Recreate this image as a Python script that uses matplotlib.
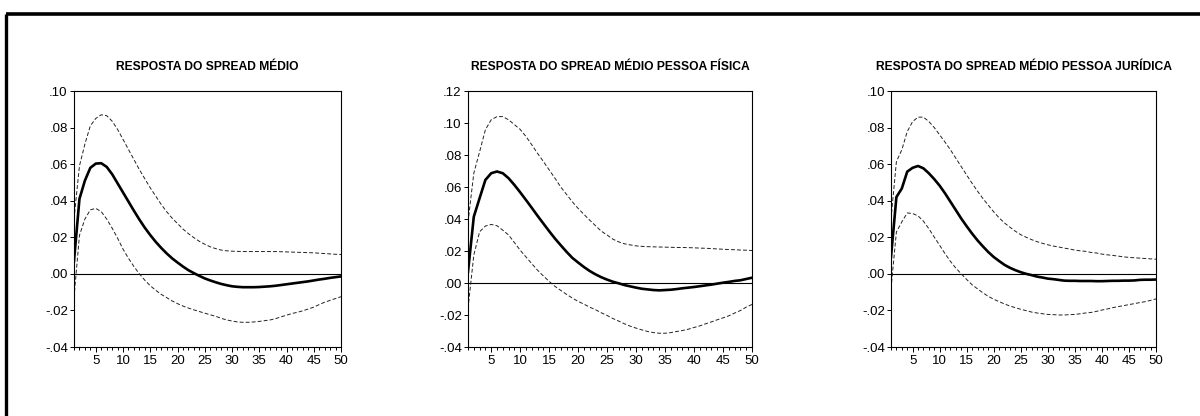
import matplotlib
matplotlib.use("Agg")
import matplotlib.pyplot as plt
from matplotlib import font_manager
from matplotlib.lines import Line2D
from matplotlib.ticker import FuncFormatter, MultipleLocator
import numpy as np

# Impulse responses, periods 1..50
periods = np.arange(1, 51)

titles = [
    "RESPOSTA DO SPREAD MÉDIO",
    "RESPOSTA DO SPREAD MÉDIO PESSOA FÍSICA",
    "RESPOSTA DO SPREAD MÉDIO PESSOA JURÍDICA",
]

# --- spread medio
resp_medio = [
    0.007, 0.041, 0.051, 0.058, 0.0603, 0.0605, 0.0585, 0.0545, 0.0495, 0.0445,
    0.0395, 0.0345, 0.0297, 0.0252, 0.0212, 0.0175, 0.0142, 0.0112, 0.0085, 0.0062,
    0.0040, 0.0020, 0.0004, -0.0011, -0.0025, -0.0036, -0.0046, -0.0055, -0.0062, -0.0068,
    -0.0071, -0.0073, -0.0073, -0.0073, -0.0072, -0.0070, -0.0068, -0.0065, -0.0061, -0.0057,
    -0.0053, -0.0049, -0.0045, -0.0041, -0.0036, -0.0031, -0.0027, -0.0022, -0.0018, -0.0014,
]
upper_medio = [
    0.030, 0.059, 0.071, 0.081, 0.085, 0.087, 0.0865, 0.0835, 0.079, 0.0735,
    0.068, 0.0625, 0.057, 0.052, 0.047, 0.0425, 0.038, 0.034, 0.0305, 0.0275,
    0.0245, 0.022, 0.0198, 0.0178, 0.0162, 0.0148, 0.0138, 0.013, 0.0126, 0.0124,
    0.0123, 0.0122, 0.0122, 0.0122, 0.0122, 0.0122, 0.0122, 0.0122, 0.0121, 0.012,
    0.0119, 0.0118, 0.0117, 0.0116, 0.0115, 0.0113, 0.0111, 0.0109, 0.0107, 0.0106,
]
lower_medio = [
    -0.013, 0.021, 0.030, 0.035, 0.0358, 0.034, 0.030, 0.025, 0.0195, 0.0135,
    0.0085, 0.004, 0.0000, -0.0035, -0.0065, -0.009, -0.0112, -0.013, -0.0148, -0.0163,
    -0.0176, -0.0187, -0.0197, -0.0206, -0.0215, -0.0224, -0.0232, -0.0243, -0.0252, -0.0258,
    -0.0263, -0.0265, -0.0265, -0.0263, -0.026, -0.0256, -0.0252, -0.0245, -0.0235, -0.0226,
    -0.0217, -0.021, -0.0202, -0.0192, -0.0182, -0.0168, -0.0155, -0.0145, -0.0135, -0.0125,
]

# --- pessoa fisica
resp_pf = [
    0.007, 0.0414, 0.053, 0.0644, 0.0686, 0.0697, 0.0686, 0.0655, 0.0613, 0.0567,
    0.0519, 0.047, 0.042, 0.0372, 0.0324, 0.0278, 0.0236, 0.0195, 0.0157, 0.0128,
    0.010, 0.0075, 0.0054, 0.0036, 0.0021, 0.0008, -0.0002, -0.0013, -0.0021, -0.0029,
    -0.0036, -0.004, -0.0044, -0.0046, -0.0044, -0.0042, -0.0038, -0.0033, -0.0029, -0.0025,
    -0.002, -0.0015, -0.001, -0.0004, 0.0002, 0.0007, 0.0013, 0.0017, 0.0025, 0.0033,
]
upper_pf = [
    0.038, 0.0686, 0.082, 0.0958, 0.102, 0.104, 0.104, 0.102, 0.099, 0.096,
    0.0916, 0.0864, 0.081, 0.076, 0.0707, 0.0655, 0.060, 0.0554, 0.0508, 0.0466,
    0.0429, 0.0393, 0.0358, 0.0324, 0.030, 0.0274, 0.0257, 0.0245, 0.0238, 0.0232,
    0.0229, 0.0227, 0.0226, 0.0225, 0.0224, 0.0223, 0.0222, 0.0222, 0.0221, 0.022,
    0.0218, 0.0217, 0.0215, 0.0213, 0.0211, 0.0209, 0.0208, 0.0206, 0.0205, 0.0203,
]
lower_pf = [
    -0.016, 0.0174, 0.032, 0.0356, 0.0366, 0.0358, 0.033, 0.030, 0.0253, 0.0205,
    0.0163, 0.0121, 0.008, 0.0044, 0.001, -0.0021, -0.0046, -0.0071, -0.0094, -0.0115,
    -0.0132, -0.0151, -0.0167, -0.0186, -0.0203, -0.0222, -0.0238, -0.0255, -0.027, -0.0282,
    -0.0293, -0.0303, -0.031, -0.0314, -0.0314, -0.031, -0.0303, -0.0297, -0.0289, -0.0278,
    -0.0268, -0.0255, -0.0243, -0.023, -0.0218, -0.0205, -0.0188, -0.0172, -0.0151, -0.0134,
]

# --- pessoa juridica
resp_pj = [
    0.0092, 0.042, 0.0467, 0.0559, 0.058, 0.059, 0.0577, 0.055, 0.0518, 0.0482,
    0.044, 0.0394, 0.0348, 0.0302, 0.026, 0.022, 0.0183, 0.015, 0.0119, 0.0092,
    0.007, 0.0049, 0.0033, 0.002, 0.0009, 0.0, -0.0007, -0.0015, -0.002, -0.0026,
    -0.0029, -0.0033, -0.0037, -0.0038, -0.0038, -0.0039, -0.0039, -0.0039, -0.0040, -0.0040,
    -0.0039, -0.0038, -0.0038, -0.0037, -0.0037, -0.0036, -0.0033, -0.0032, -0.0032, -0.0031,
]
upper_pj = [
    0.030, 0.0614, 0.0678, 0.0778, 0.0833, 0.0857, 0.0857, 0.0833, 0.080, 0.076,
    0.072, 0.0678, 0.0632, 0.0586, 0.054, 0.0495, 0.0452, 0.0412, 0.0375, 0.0339,
    0.0306, 0.0278, 0.0255, 0.0233, 0.0214, 0.020, 0.0187, 0.0176, 0.0167, 0.0159,
    0.0152, 0.0147, 0.0141, 0.0136, 0.013, 0.0126, 0.0123, 0.0117, 0.0114, 0.0108,
    0.0104, 0.0101, 0.0097, 0.0093, 0.009, 0.0088, 0.0086, 0.0084, 0.0082, 0.008,
]
lower_pj = [
    -0.008, 0.0229, 0.0284, 0.0333, 0.033, 0.0317, 0.0288, 0.0247, 0.0201, 0.0156,
    0.011, 0.0068, 0.0031, 0.0, -0.0031, -0.006, -0.0082, -0.0104, -0.0123, -0.0139,
    -0.0152, -0.0165, -0.0176, -0.0185, -0.0194, -0.0201, -0.0209, -0.0214, -0.0218, -0.0222,
    -0.0223, -0.0225, -0.0225, -0.0223, -0.0222, -0.0218, -0.0214, -0.0211, -0.0205, -0.0198,
    -0.0192, -0.0185, -0.0179, -0.0174, -0.0168, -0.0163, -0.0157, -0.0152, -0.0145, -0.0137,
]

y_limits = [(-0.04, 0.10), (-0.04, 0.12), (-0.04, 0.10)]


def pick_font():
    for name in ["Liberation Sans Narrow", "Liberation Sans", "DejaVu Sans"]:
        try:
            font_manager.findfont(name, fallback_to_default=False)
            return name
        except ValueError:
            pass
    return "DejaVu Sans"


plt.rcParams["font.family"] = pick_font()


def short_fmt(v, _pos):
    s = f"{v:.2f}"
    return s.replace("0.", ".", 1)


fig = plt.figure(figsize=(12, 4.16), dpi=100)

# axes boxes in pixels: (left, right); shared top/bottom
boxes = [(74, 341), (468, 752), (891, 1156)]
top_px, bot_px = 91, 347
W, H = 1200, 416

series = [
    (resp_medio, upper_medio, lower_medio),
    (resp_pf, upper_pf, lower_pf),
    (resp_pj, upper_pj, lower_pj),
]

for (l, r), title, (mid, up, lo), ylim in zip(boxes, titles, series, y_limits):
    ax = fig.add_axes([l / W, 1 - bot_px / H, (r - l) / W, (bot_px - top_px) / H])
    ax.axhline(0, color="black", lw=0.8, zorder=1)
    ax.plot(periods, up, color="#222222", lw=0.7, dashes=[4, 2.2], zorder=2)
    ax.plot(periods, lo, color="#222222", lw=0.7, dashes=[4, 2.2], zorder=2)
    ax.plot(periods, mid, color="black", lw=1.9, zorder=3)

    ax.set_xlim(1, 50)
    ax.set_ylim(*ylim)
    ax.xaxis.set_major_locator(MultipleLocator(5))
    ax.xaxis.set_minor_locator(MultipleLocator(1))
    ax.yaxis.set_major_locator(MultipleLocator(0.02))
    ax.yaxis.set_major_formatter(FuncFormatter(short_fmt))
    ax.tick_params(axis="both", which="both", direction="out", labelsize=9.5,
                   width=0.7, colors="black")
    ax.tick_params(axis="x", which="major", length=3.5, pad=2.5)
    ax.tick_params(axis="x", which="minor", length=2.5)
    ax.tick_params(axis="y", which="major", length=3, pad=1.5)
    for sp in ax.spines.values():
        sp.set_linewidth(0.8)

    fig.text((l + r) / 2 / W, 1 - 67 / H, title, ha="center", va="center",
             fontsize=8.7, fontweight="bold")

# frame lines along the top and left edge
y_top = 1 - 13.5 / H
x_left = 6.3 / W
fig.add_artist(Line2D([x_left, 1.0], [y_top, y_top], transform=fig.transFigure,
                      color="black", lw=2.6, solid_capstyle="butt"))
fig.add_artist(Line2D([x_left, x_left], [y_top, 0.0], transform=fig.transFigure,
                      color="black", lw=2.4, solid_capstyle="butt"))

fig.savefig("out.png", dpi=100, facecolor="white")
